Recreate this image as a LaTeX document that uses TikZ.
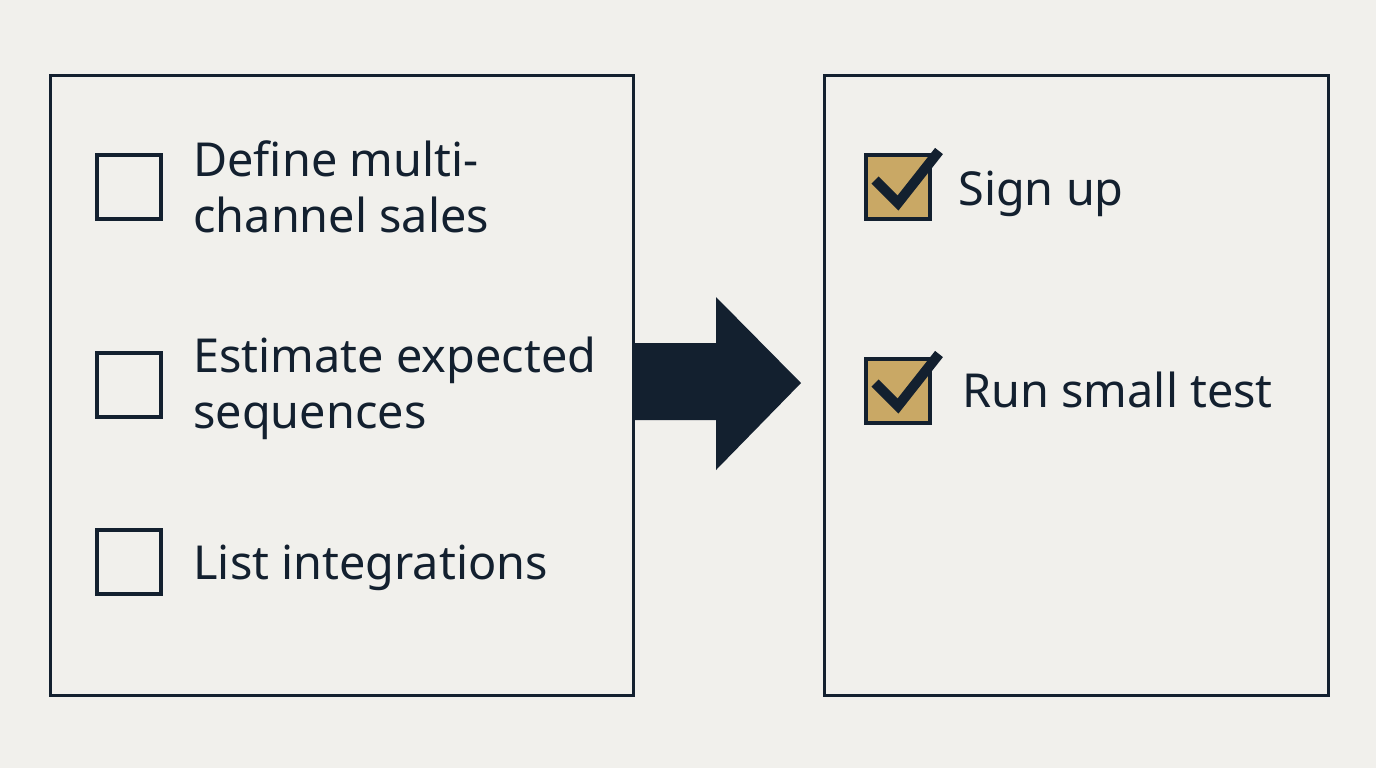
\documentclass[tikz,border=0pt]{standalone}
\usepackage{fontspec}
\setmainfont{Noto Sans}
\definecolor{navy}{HTML}{13202F}
\definecolor{paper}{HTML}{F1F0EC}
\definecolor{tan}{HTML}{C9A865}
\tikzset{
  panel/.style={draw=navy, line width=1.6pt, minimum width=291.5pt, minimum height=310pt, anchor=north west},
  tickbox/.style={draw=navy, line width=1.75pt, minimum size=32pt, inner sep=0pt, anchor=north west},
  donebox/.style={tickbox, fill=tan},
  item/.style={anchor=base west, text=navy, inner sep=0pt, align=left,
    font=\fontsize{23.4pt}{28pt}\selectfont},
  tick/.style={draw=navy, line width=5pt}
}
\begin{document}
\begin{tikzpicture}[x=0.5pt, y=-0.5pt]

  % Fondo
  \fill[paper] (0,0) rectangle (1376,768);
  \useasboundingbox (0,0) rectangle (1376,768);

  % Paneles
  \node[panel] (todo) at (49,74) {};
  \node[panel, minimum width=252pt] (done) at (823,74) {};

  % Lista pendiente (base = ultima linea)
  \node[tickbox] (boxa) at (95,153) {};
  \node[item] (itema) at (193,232) {Define multi-\\channel sales};

  \node[tickbox] (boxb) at (95,351) {};
  \node[item] (itemb) at (193,428) {Estimate expected\\sequences};

  \node[tickbox] (boxc) at (95,528) {};
  \node[item] (itemc) at (193,579) {List integrations};

  % Lista hecha
  \node[donebox] (boxd) at (864,153) {};
  \draw[tick] (875,180) -- (898,203) -- (939,151);
  \node[item] (itemd) at (958,205) {Sign up};

  \node[donebox] (boxe) at (864,357) {};
  \draw[tick] (875,383) -- (898,406) -- (939,354);
  \node[item] (iteme) at (962,407) {Run small test};

  % Flecha
  \fill[navy]
    (todo.east |- 0,343) -- (716,343) -- (716,297) -- (801,383)
    -- (716,470) -- (716,420) -- (todo.east |- 0,420) -- cycle;

\end{tikzpicture}
\end{document}
